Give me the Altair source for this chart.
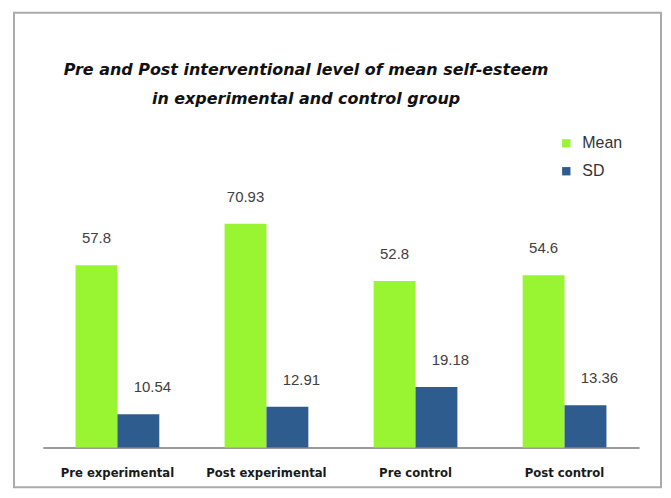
import altair as alt
import pandas as pd

categories = ["Pre experimental", "Post experimental", "Pre control", "Post control"]
mean_values = [57.8, 70.93, 52.8, 54.6]
sd_values = [10.54, 12.91, 19.18, 13.36]
series = ["Mean", "SD"]
colors = ["#99F531", "#2F5C8E"]
title_lines = [
    "Pre and Post interventional level of mean self-esteem",
    "in experimental and control group",
]

rows = []
for c, m, s in zip(categories, mean_values, sd_values):
    rows.append({"category": c, "series": "Mean", "value": m, "label": str(m)})
    rows.append({"category": c, "series": "SD", "value": s, "label": str(s)})
df = pd.DataFrame(rows)

x_enc = alt.X(
    "category:N",
    sort=categories,
    scale=alt.Scale(paddingInner=0.438, paddingOuter=0.219),
    axis=alt.Axis(
        title=None, labelAngle=0, ticks=False, grid=False,
        domainColor="#9a9a9a", domainWidth=2,
        labelFont="DejaVu Sans Condensed, Liberation Sans, sans-serif",
        labelFontWeight="bold",
        labelFontSize=13, labelColor="#1a1a1a", labelPadding=19,
    ),
)
xoff_enc = alt.XOffset("series:N", sort=series,
                       scale=alt.Scale(paddingInner=0, paddingOuter=0))
y_enc = alt.Y("value:Q", scale=alt.Scale(domain=[0, 80]), axis=None)

base = alt.Chart(df)

bars = base.mark_bar().encode(
    x=x_enc,
    xOffset=xoff_enc,
    y=y_enc,
    color=alt.Color(
        "series:N", sort=series,
        scale=alt.Scale(domain=series, range=colors),
        legend=alt.Legend(
            title=None, orient="none", legendX=517, legendY=-60,
            symbolType="square", symbolSize=70, symbolStrokeWidth=0,
            labelFont="Liberation Sans", labelFontSize=16, labelColor="#333333",
            rowPadding=12, labelOffset=8,
        ),
    ),
)

mean_text = base.transform_filter(alt.datum.series == "Mean").mark_text(
    dy=-27, baseline="middle", font="Liberation Sans", fontSize=15, color="#404040"
).encode(x=x_enc, xOffset=xoff_enc, y=y_enc, text="label:N")

sd_text = base.transform_filter(alt.datum.series == "SD").mark_text(
    dx=14, dy=-27, baseline="middle", font="Liberation Sans", fontSize=15, color="#404040"
).encode(x=x_enc, xOffset=xoff_enc, y=y_enc, text="label:N")

deco_df = pd.DataFrame([{"title": "\n".join(title_lines)}])

frame = alt.Chart(deco_df).mark_rect(
    fill="transparent", stroke="#ababab", strokeWidth=2
).encode(
    x=alt.value(-29), x2=alt.value(620),
    y=alt.value(-183), y2=alt.value(293),
)

title = alt.Chart(deco_df).mark_text(
    lineBreak="\n", lineHeight=30, baseline="top", align="center",
    font="DejaVu Sans", fontStyle="italic", fontWeight="bold",
    fontSize=16, color="#111111",
).encode(
    x=alt.value(264), y=alt.value(-134), text="title:N"
)

chart = alt.layer(frame, bars, mean_text, sd_text, title).properties(
    width=598, height=253,
    padding={"left": 35, "top": 187, "right": 24, "bottom": 42},
    autosize=alt.AutoSizeParams(type="none"),
    background="white",
).configure_view(stroke=None)

chart.save("out.html", embed_options={"renderer": "svg", "actions": False})
